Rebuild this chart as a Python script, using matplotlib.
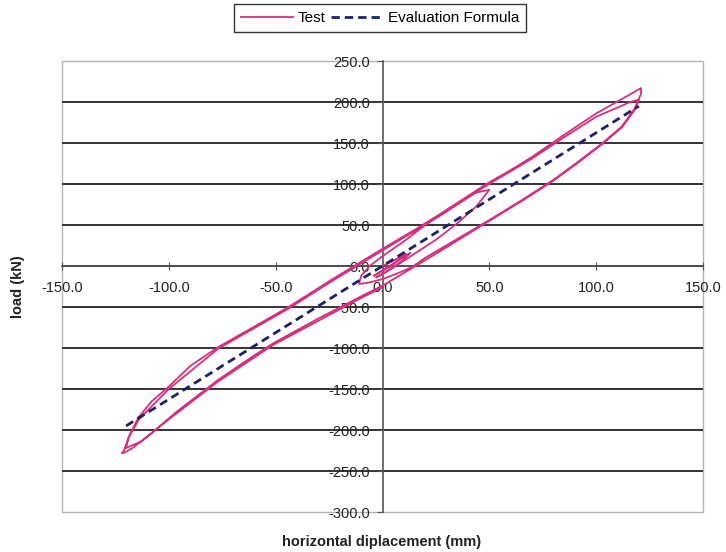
import numpy as np
import matplotlib.pyplot as plt
from matplotlib.patches import Rectangle

plt.rcParams['font.family'] = ['Liberation Sans', 'DejaVu Sans']

# test curve (disp mm, load kN)
small_disp = [0, 4, 9, 11, 8, 4, 0, -4, 0, 5, 10, 13, 9, 4, 0, -3]
small_load = [0, 5, 12, 15, 8, 0, -6, -12, -5, 3, 11, 16, 6, -3, -10, -14]

mid_disp = [5, 15, 25, 35, 44, 50, 43, 30, 20, 10, 0, -6, -10, -11,
            -6, 0, 8, 14]
mid_load = [-2, 15, 32, 52, 73, 93, 89, 68, 50, 30, 12, 0, -12, -22,
            -20, -16, -8, -1]

big1_disp = [20, 35, 50, 65, 80, 92, 103, 112, 118, 121, 121,
             115, 100, 85, 70, 60, 48, 38, 28, 15, 0, -12, -24, -44, -60, -77, -90,
             -100, -108, -114, -118, -121, -122,
             -121, -117, -110, -96, -77, -60, -51, -30, -10, 0, 20, 35, 50, 65, 80,
             92, 103, 112, 118, 120]
big1_load = [10, 33, 56, 80, 105, 128, 150, 170, 192, 210, 217,
             208, 186, 160, 133, 117, 99, 82, 65, 44, 21, 2, -17, -50, -74, -99, -122,
             -147, -165, -184, -204, -225, -228,
             -228, -222, -208, -177, -139, -109, -94, -64, -37, -24, 7, 31, 55, 79, 104,
             127, 149, 169, 190, 203]

big2_disp = [116, 100, 85, 70, 48, 28, 0, -24, -44, -77, -100, -114, -119, -120,
             -113, -100, -77, -51, -10, 0]
big2_load = [200, 182, 157, 131, 97, 63, 19, -19, -52, -101, -150, -187, -210, -222,
             -214, -187, -141, -96, -39, -26]

test_disp = small_disp + mid_disp + big1_disp + big2_disp
test_load = small_load + mid_load + big1_load + big2_load

eval_disp = [-120, 0, 120]
eval_load = [-195, 0, 195]

yticks = np.arange(-300, 251, 50)
xticks = np.arange(-150, 151, 50)

fig = plt.figure(figsize=(7.26, 5.52), dpi=100)
ax = fig.add_axes([62 / 726, 1 - 512 / 552, 641 / 726, 451 / 552])

for y in yticks[1:-1]:
    ax.axhline(y, color='#333333', lw=1.4, zorder=1)

ax.plot(test_disp, test_load, color='#d4307e', lw=1.3, label='Test', zorder=3)
ax.plot(eval_disp, eval_load, color='#1c2266', lw=2.0, dashes=(3, 1.8),
        label='Evaluation Formula', zorder=4)

ax.set_xlim(-150, 150)
ax.set_ylim(-300, 250)
ax.set_xticks(xticks)
ax.set_yticks(yticks)
ax.set_xticklabels(['%.1f' % v for v in xticks])
ax.set_yticklabels(['%.1f' % v for v in yticks])

ax.spines['left'].set_position(('data', 0))
ax.spines['bottom'].set_position(('data', 0))
for s in ['left', 'bottom']:
    ax.spines[s].set_color('#555555')
    ax.spines[s].set_linewidth(1.2)
ax.spines['top'].set_visible(False)
ax.spines['right'].set_visible(False)
ax.add_patch(Rectangle((0, 0), 1, 1, transform=ax.transAxes, fill=False,
                       ec='#b4b4b4', lw=1.0, clip_on=False, zorder=0))

ax.tick_params(axis='y', direction='out', length=4, pad=5, labelsize=10.5,
               colors='#555555', labelcolor='#222222')
ax.tick_params(axis='x', direction='inout', length=6, pad=8, labelsize=10.5,
               colors='#555555', labelcolor='#222222')

fig.text(18 / 726, 1 - 287 / 552, 'load (kN)', rotation=90, ha='center', va='center',
         fontsize=10.5, fontweight='bold', color='#222222')
fig.text(382 / 726, 1 - 542 / 552, 'horizontal diplacement (mm)', ha='center',
         va='center', fontsize=10.5, fontweight='bold', color='#222222')

leg = fig.legend(loc='center', bbox_to_anchor=(380 / 726, 1 - 18 / 552), ncol=2,
                 fontsize=11, frameon=True, fancybox=False, handlelength=3.4,
                 handletextpad=0.3, columnspacing=0.4, borderpad=0.45,
                 borderaxespad=0)
leg.get_frame().set_edgecolor('#000000')
leg.get_frame().set_linewidth(1.0)

fig.savefig('out.png', dpi=100)
